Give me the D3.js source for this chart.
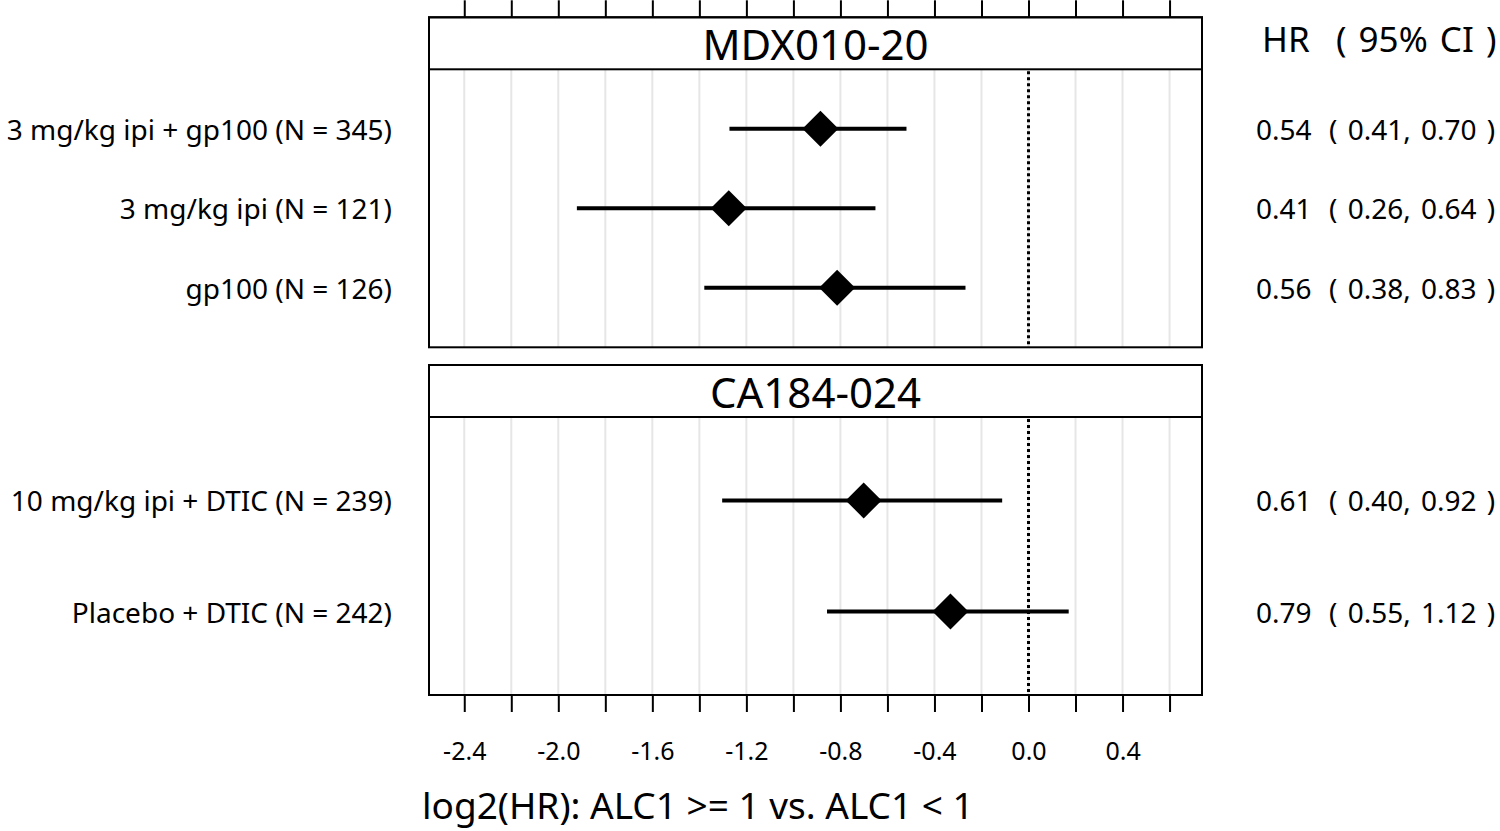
<!DOCTYPE html>
<html lang="en">
<head>
    <meta charset="UTF-8">
    <title>log2(HR) forest plot</title>
    <style>
        body, html {
            margin: 0;
            padding: 0;
            background-color: #ffffff;
        }
        svg {
            font-family: "Noto Sans", "DejaVu Sans", sans-serif;
        }
        .grid line {
            stroke: #e6e6e6;
            stroke-width: 2px;
        }
        .frame {
            fill: none;
            stroke: #000;
            stroke-width: 2px;
        }
        .ci {
            stroke: #000;
            stroke-width: 4px;
        }
        .zero {
            stroke: #000;
            stroke-width: 3px;
            stroke-dasharray: 3 3;
        }
    </style>
</head>
<body>
    <div id="chart"></div>

    <script src="https://d3js.org/d3.v7.min.js"></script>

    <script>
        // study panels
        const studies = ['MDX010-20', 'CA184-024'];

        // rows (arm labels) per study
        const arms = [
            ['3 mg/kg ipi + gp100 (N = 345)', '3 mg/kg ipi (N = 121)', 'gp100 (N = 126)'],
            ['10 mg/kg ipi + DTIC (N = 239)', 'Placebo + DTIC (N = 242)']
        ];

        // log2(HR) point estimates and 95% CI bounds
        const est   = [[-0.885, -1.275, -0.814], [-0.701, -0.332]];
        const lower = [[-1.272, -1.921, -1.379], [-1.303, -0.857]];
        const upper = [[-0.519, -0.651, -0.268], [-0.112,  0.171]];

        // printed HR (95% CI) text column
        const hrText = [
            ['0.54', '0.41', '0.56'],
            ['0.61', '0.79']
        ];
        const ciText = [
            ['( 0.41, 0.70 )', '( 0.26, 0.64 )', '( 0.38, 0.83 )'],
            ['( 0.40, 0.92 )', '( 0.55, 1.12 )']
        ];

        const tickValues = d3.range(-12, 4).map(i => i * 0.2);
        const labelValues = [-2.4, -2.0, -1.6, -1.2, -0.8, -0.4, 0.0, 0.4];

        const width = 1500, height = 831;
        const left = 429, right = 1202;
        const stripH = 52;
        const panelTops = [17.3, 365];
        const panelBottoms = [347.3, 695];

        const svg = d3.select('#chart').append('svg')
            .attr('width', width)
            .attr('height', height);

        const x = d3.scaleLinear().domain([-2.55, 0.738]).range([left, right]);

        studies.forEach((study, p) => {
            const top = panelTops[p];
            const bottom = panelBottoms[p];
            const inner = top + stripH;

            const y = d3.scalePoint()
                .domain(arms[p])
                .range([inner, bottom])
                .padding(0.75);

            const g = svg.append('g');

            // grid
            g.append('g').attr('class', 'grid')
                .selectAll('line')
                .data(tickValues)
                .enter().append('line')
                .attr('x1', d => x(d)).attr('x2', d => x(d))
                .attr('y1', inner).attr('y2', bottom);

            // reference line at 0
            g.append('line').attr('class', 'zero')
                .attr('x1', x(0)).attr('x2', x(0))
                .attr('y1', inner + 2).attr('y2', bottom);

            // CI segments
            g.selectAll('line.ci')
                .data(arms[p])
                .enter().append('line')
                .attr('class', 'ci')
                .attr('x1', (d, i) => x(lower[p][i]))
                .attr('x2', (d, i) => x(upper[p][i]))
                .attr('y1', d => y(d)).attr('y2', d => y(d));

            // diamonds
            g.selectAll('path.pt')
                .data(arms[p])
                .enter().append('path')
                .attr('class', 'pt')
                .attr('d', 'M0,-18L18,0L0,18L-18,0Z')
                .attr('fill', '#000')
                .attr('transform', (d, i) => `translate(${x(est[p][i])},${y(d)})`);

            // strip
            g.append('rect').attr('class', 'frame')
                .attr('x', left).attr('y', top)
                .attr('width', right - left).attr('height', stripH)
                .attr('fill', '#fff');
            g.append('text')
                .attr('x', (left + right) / 2)
                .attr('y', top + stripH / 2)
                .attr('text-anchor', 'middle')
                .attr('dominant-baseline', 'central')
                .attr('font-size', 42)
                .text(study);

            // panel frame
            g.append('rect').attr('class', 'frame')
                .attr('x', left).attr('y', top)
                .attr('width', right - left).attr('height', bottom - top);

            // arm labels
            g.selectAll('text.arm')
                .data(arms[p])
                .enter().append('text')
                .attr('class', 'arm')
                .attr('x', 392)
                .attr('y', d => y(d))
                .attr('text-anchor', 'end')
                .attr('dominant-baseline', 'central')
                .attr('font-size', 28)
                .text(d => d);

            // HR (95% CI) text
            const rt = g.selectAll('text.hr')
                .data(arms[p])
                .enter().append('text')
                .attr('class', 'hr')
                .attr('y', d => y(d))
                .attr('dominant-baseline', 'central')
                .attr('font-size', 28)
                .attr('word-spacing', 3);
            rt.append('tspan').attr('x', 1256).text((d, i) => hrText[p][i]);
            rt.append('tspan').attr('x', 1329).text((d, i) => ciText[p][i]);
        });

        // header of the right column
        const hdr = svg.append('text')
            .attr('y', 38)
            .attr('dominant-baseline', 'central')
            .attr('font-size', 35)
            .attr('word-spacing', 3);
        hdr.append('tspan').attr('x', 1262).text('HR');
        hdr.append('tspan').attr('x', 1336).text('( 95% CI )');

        // top ticks
        const topAxis = d3.axisTop(x).tickValues(tickValues).tickSize(17).tickFormat('');
        svg.append('g')
            .attr('transform', `translate(0,${panelTops[0]})`)
            .call(topAxis)
            .call(g => g.select('.domain').remove())
            .call(g => g.selectAll('line').attr('stroke-width', 2));

        // bottom ticks with labels (plain hyphen as minus)
        const fmt = d3.format('.1f');
        const bottomAxis = d3.axisBottom(x)
            .tickValues(tickValues)
            .tickSize(17)
            .tickPadding(30)
            .tickFormat(d => labelValues.some(v => Math.abs(v - d) < 1e-9) ? fmt(d).replace('\u2212', '-') : '');
        svg.append('g')
            .attr('transform', `translate(0,${panelBottoms[1]})`)
            .call(bottomAxis)
            .call(g => g.select('.domain').remove())
            .call(g => g.selectAll('line').attr('stroke-width', 2))
            .call(g => g.selectAll('text')
                .attr('font-family', '"Noto Sans", sans-serif')
                .attr('font-size', 25)
                .attr('fill', '#000'));

        // x axis title
        svg.append('text')
            .attr('x', 422)
            .attr('y', 804)
            .attr('dominant-baseline', 'central')
            .attr('font-size', 37)
            .text('log2(HR): ALC1 >= 1 vs. ALC1 < 1');
    </script>
</body>
</html>
